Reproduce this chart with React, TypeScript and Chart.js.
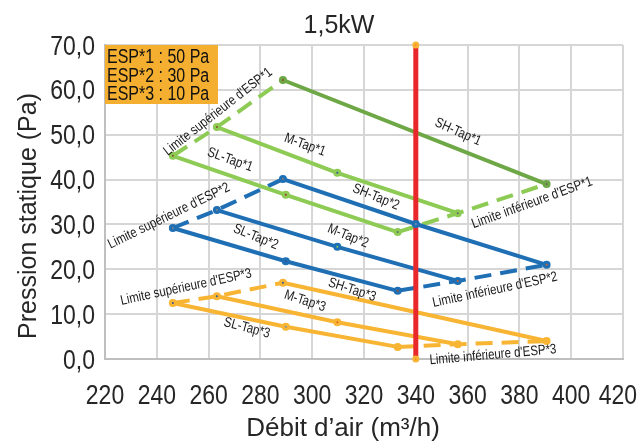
import React, { useEffect, useRef } from 'react';
import { Chart, registerables } from 'chart.js';

Chart.register(...registerables);

// ---------- data ----------
const xTickLabels = ['220', '240', '260', '280', '300', '320', '340', '360', '380', '400', '420'];
const yTickLabels = ['0,0', '10,0', '20,0', '30,0', '40,0', '50,0', '60,0', '70,0'];

// ESP*1 : 50 Pa
const sh1X = [288.7, 390.5];
const sh1Y = [62.2, 39.0];
const m1X = [263.2, 309.7, 356.2];
const m1Y = [51.7, 41.5, 32.5];
const sl1X = [246.2, 289.8, 333.0];
const sl1Y = [45.3, 36.6, 28.3];
// ESP*2 : 30 Pa
const sh2X = [288.7, 340.0, 390.5];
const sh2Y = [40.1, 30.1, 21.0];
const m2X = [263.2, 309.7, 356.2];
const m2Y = [33.2, 25.0, 17.4];
const sl2X = [246.2, 289.8, 333.0];
const sl2Y = [29.2, 21.8, 15.2];
// ESP*3 : 10 Pa
const sh3X = [288.7, 390.5];
const sh3Y = [17.0, 4.0];
const m3X = [263.2, 309.7, 356.2];
const m3Y = [14.0, 8.2, 3.3];
const sl3X = [246.2, 289.8, 333.0];
const sl3Y = [12.5, 7.2, 2.7];
// rated airflow
const ratedX = [340, 340];
const ratedY = [0, 70];

const espLabels = ['ESP*1 : 50 Pa', 'ESP*2 : 30 Pa', 'ESP*3 : 10 Pa'];

// annotations (text, data x, data y, angle in degrees)
const noteTexts = [
  "Limite supérieure d'ESP*1", 'M-Tap*1', 'SL-Tap*1', 'SH-Tap*1', 'SH-Tap*2', "Limite inférieure d'ESP*1",
  "Limite supérieure d'ESP*2", 'SL-Tap*2', 'M-Tap*2', "Limite inférieure d'ESP*2",
  "Limite supérieure d'ESP*3", 'M-Tap*3', 'SL-Tap*3', 'SH-Tap*3', "Limite inférieure d'ESP*3",
];
const noteX = [263.6, 297.2, 268.3, 356.3, 324.6, 384.9, 244.7, 278.2, 313.8, 370.6, 251.3, 297.2, 274.8, 315.4, 369.8];
const noteY = [55.1, 47.7, 44.4, 50.6, 36.1, 34.8, 31.9, 27.2, 27.4, 15.4, 16.0, 12.9, 6.9, 15.4, 0.9];
const noteAngle = [-38, 20, 20, 24, 22, -20, -26, 22, 22, -12, -12, 18, 15, 18, -5];

// ---------- style ----------
const REG = "'Liberation Sans', Arial, sans-serif";
const SQUEEZE = 0.82;
const DARK_GREEN = '#6EA846';
const LIGHT_GREEN = '#8DCB55';
const BLUE = '#1F6FB5';
const ORANGE = '#F8B534';
const RED = '#E8282B';
const TEXT = '#262626';
const GRID = '#D6D6D6';

const pts = (xs: number[], ys: number[]) => xs.map((x, i) => ({ x, y: ys[i] }));
const ends = (a: number[], b: number[], c: number[], pick: (arr: number[]) => number) => [pick(a), pick(b), pick(c)];
const first = (arr: number[]) => arr[0];
const last = (arr: number[]) => arr[arr.length - 1];

function solid(label: string, xs: number[], ys: number[], color: string, inner: string[], order = 2) {
  return {
    label,
    data: pts(xs, ys),
    showLine: true,
    borderColor: color,
    borderWidth: 4,
    pointRadius: 2.5,
    pointBorderWidth: 3,
    pointBorderColor: color,
    pointBackgroundColor: inner,
    order,
  };
}
function dashed(label: string, xs: number[], ys: number[], color: string) {
  return {
    label,
    data: pts(xs, ys),
    showLine: true,
    borderColor: color,
    borderWidth: 4,
    borderDash: [17, 9],
    pointRadius: 0,
    order: 3,
  };
}

// draw condensed text: (x,y) anchor, rotation in radians
function squeezed(ctx: CanvasRenderingContext2D, text: string, x: number, y: number, size: number, align: CanvasTextAlign, baseline: CanvasTextBaseline, rot = 0) {
  ctx.save();
  ctx.translate(x, y);
  if (rot) ctx.rotate(rot);
  ctx.scale(SQUEEZE, 1);
  ctx.font = `${size}px ${REG}`;
  ctx.textAlign = align;
  ctx.textBaseline = baseline;
  ctx.fillText(text, 0, 0);
  ctx.restore();
}

const annotationPlugin = {
  id: 'annotations',
  beforeDraw(chart: any) {
    const { ctx } = chart;
    ctx.save();
    ctx.fillStyle = '#ffffff';
    ctx.fillRect(0, 0, chart.width, chart.height);
    ctx.restore();
  },
  afterDatasetsDraw(chart: any) {
    const { ctx, scales } = chart;
    const xs = scales.x;
    const ys = scales.y;
    ctx.save();
    // tick labels
    ctx.fillStyle = TEXT;
    ctx.font = `28px ${REG}`;
    xTickLabels.forEach((t) => {
      let cx = xs.getPixelForValue(Number(t));
      const half = (ctx.measureText(t).width * SQUEEZE) / 2;
      if (cx + half > chart.width) cx = chart.width - half;
      squeezed(ctx, t, cx, ys.bottom + 45, 28, 'center', 'alphabetic');
    });
    yTickLabels.forEach((t, i) => {
      squeezed(ctx, t, xs.left - 10, ys.getPixelForValue(i * 10) + 9.5, 28, 'right', 'alphabetic');
    });
    // notes
    ctx.fillStyle = '#1a1a1a';
    noteTexts.forEach((t, i) => {
      const px = xs.getPixelForValue(noteX[i]);
      const py = ys.getPixelForValue(noteY[i]);
      squeezed(ctx, t, px, py, 14, 'center', 'middle', (noteAngle[i] * Math.PI) / 180);
    });
    // ESP box
    const bx = xs.left;
    const by = ys.top;
    ctx.fillStyle = '#F4AF30';
    ctx.fillRect(bx, by, 113, 59);
    ctx.fillStyle = '#111111';
    espLabels.forEach((t, i) => squeezed(ctx, t, bx + 2, by + 18 + i * 18.5, 19.5, 'left', 'alphabetic'));
    // title
    ctx.fillStyle = TEXT;
    ctx.font = `25px ${REG}`;
    ctx.textAlign = 'center';
    ctx.textBaseline = 'alphabetic';
    ctx.fillText('1,5kW', 339, 33);
    // x axis title
    ctx.font = `26px ${REG}`;
    ctx.fillText('Débit d’air (m³/h)', 343, 436);
    // y axis title
    ctx.save();
    ctx.font = `25px ${REG}`;
    ctx.translate(36, 216);
    ctx.rotate(-Math.PI / 2);
    ctx.fillText('Pression statique (Pa)', 0, 0);
    ctx.restore();
    ctx.restore();
  },
};

export default function App() {
  const ref = useRef<HTMLCanvasElement | null>(null);
  useEffect(() => {
    document.body.style.margin = '0';
    if (!ref.current) return;
    const datasets: any[] = [
      {
        label: 'Débit nominal',
        data: pts(ratedX, ratedY),
        showLine: true,
        borderColor: RED,
        borderWidth: 5,
        pointRadius: 2,
        pointBorderWidth: 3,
        pointBorderColor: ORANGE,
        pointBackgroundColor: RED,
        clip: false,
        order: 1,
      },
      solid('SH-Tap*1', sh1X, sh1Y, DARK_GREEN, ['#8B4A2B', '#666666']),
      solid('M-Tap*1', m1X, m1Y, LIGHT_GREEN, ['#8B4A2B', '#2F5597', '#666666']),
      solid('SL-Tap*1', sl1X, sl1Y, LIGHT_GREEN, ['#8B4A2B', '#A0392B', '#666666']),
      dashed("Limite supérieure d'ESP*1", ends(sl1X, m1X, sh1X, first), ends(sl1Y, m1Y, sh1Y, first), LIGHT_GREEN),
      dashed("Limite inférieure d'ESP*1", ends(sl1X, m1X, sh1X, last), ends(sl1Y, m1Y, sh1Y, last), LIGHT_GREEN),
      solid('SH-Tap*2', sh2X, sh2Y, BLUE, ['#7F7F7F', '#7F8FA6', '#D0612B'], 0),
      solid('M-Tap*2', m2X, m2Y, BLUE, ['#7F7F7F', '#8DCB55', '#D0612B']),
      solid('SL-Tap*2', sl2X, sl2Y, BLUE, ['#7F7F7F', '#2F5597', '#A0522D']),
      dashed("Limite supérieure d'ESP*2", ends(sl2X, m2X, sh2X, first), ends(sl2Y, m2Y, sh2Y, first), BLUE),
      dashed("Limite inférieure d'ESP*2", ends(sl2X, m2X, sh2X, last), ends(sl2Y, m2Y, sh2Y, last), BLUE),
      solid('SH-Tap*3', sh3X, sh3Y, ORANGE, ['#2F5597', ORANGE]),
      solid('M-Tap*3', m3X, m3Y, ORANGE, ['#2F5597', '#E0602B', ORANGE]),
      solid('SL-Tap*3', sl3X, sl3Y, ORANGE, ['#2F5597', '#7F8FA6', ORANGE]),
      dashed("Limite supérieure d'ESP*3", ends(sl3X, m3X, sh3X, first), ends(sl3Y, m3Y, sh3Y, first), ORANGE),
      dashed("Limite inférieure d'ESP*3", ends(sl3X, m3X, sh3X, last), ends(sl3Y, m3Y, sh3Y, last), ORANGE),
    ];
    const chart = new Chart(ref.current, {
      type: 'scatter',
      data: { datasets },
      plugins: [annotationPlugin],
      options: {
        animation: false,
        responsive: false,
        devicePixelRatio: 1,
        layout: { padding: { top: 45, right: 14, left: 0, bottom: 0 } },
        plugins: { legend: { display: false }, tooltip: { enabled: false } },
        scales: {
          x: {
            type: 'linear',
            min: 220,
            max: 420,
            afterBuildTicks: (s: any) => {
              s.ticks = xTickLabels.map((t) => ({ value: Number(t) }));
            },
            afterFit: (s: any) => {
              s.height = 85;
              s.paddingLeft = 0;
              s.paddingRight = 0;
            },
            ticks: { display: false },
            grid: { color: GRID, lineWidth: 2, drawTicks: false },
            border: { color: '#BFBFBF', width: 2 },
          },
          y: {
            type: 'linear',
            min: 0,
            max: 70,
            afterBuildTicks: (s: any) => {
              s.ticks = yTickLabels.map((_t, i) => ({ value: i * 10 }));
            },
            afterFit: (s: any) => {
              s.width = 105;
              s.paddingTop = 0;
              s.paddingBottom = 0;
            },
            ticks: { display: false },
            grid: { color: GRID, lineWidth: 2, drawTicks: false },
            border: { color: '#BFBFBF', width: 2 },
          },
        },
      } as any,
    });
    return () => chart.destroy();
  }, []);
  return (
    <div style={{ width: 637, height: 444 }}>
      <canvas ref={ref} width={637} height={444} style={{ display: 'block' }} />
    </div>
  );
}
